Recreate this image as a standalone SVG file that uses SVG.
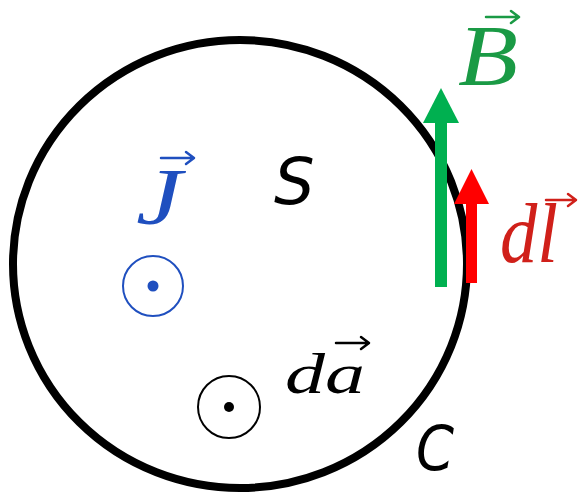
<svg xmlns="http://www.w3.org/2000/svg" width="579" height="493" viewBox="0 0 579 493">
<style>
.math{font-family:"Liberation Serif","DejaVu Serif",serif;font-style:italic}
.sans{font-family:"DejaVu Sans","Liberation Sans",sans-serif;font-style:oblique}
.vec{fill:none;stroke-width:2.5;stroke-linecap:round;stroke-linejoin:round}
</style>
<rect width="579" height="493" fill="#fff"/>
<g id="loop">
<ellipse cx="240" cy="264" rx="227" ry="224" fill="none" stroke="#000" stroke-width="8"/>
</g>
<g id="S"><text class="sans" x="274" y="204" font-size="64" fill="#000">S</text></g>
<g id="C"><text class="sans" x="416" y="470" font-size="62" fill="#000" textLength="38" lengthAdjust="spacingAndGlyphs">C</text></g>
<g id="J">
<circle cx="153" cy="286" r="30" fill="none" stroke="#1f4fbf" stroke-width="2"/>
<circle cx="153" cy="286" r="5.5" fill="#1f4fbf"/>
<text class="math" x="136" y="224" font-size="80" fill="#1f4fbf" textLength="46" lengthAdjust="spacingAndGlyphs">J</text>
<path class="vec" stroke="#1f4fbf" d="M161 158H193M186 152L194 158L186 164"/>
</g>
<g id="da">
<circle cx="229" cy="407" r="31" fill="none" stroke="#000" stroke-width="2"/>
<circle cx="229" cy="407" r="5" fill="#000"/>
<text class="math" x="285" y="393" font-size="58" fill="#000" textLength="80" lengthAdjust="spacingAndGlyphs">da</text>
<path class="vec" stroke="#000" d="M336 343H368M361 337L369 343L361 349"/>
</g>
<g id="B">
<path d="M441 287V120" stroke="#00b050" stroke-width="12"/>
<path d="M441 88L459 123H423Z" fill="#00b050"/>
<text class="math" x="458" y="85" font-size="86" fill="#1a9a45" textLength="60" lengthAdjust="spacingAndGlyphs">B</text>
<path class="vec" stroke="#1a9a45" d="M486 17H518M511 11L519 17L511 23"/>
</g>
<g id="dl">
<path d="M471.5 283V200" stroke="#ff0000" stroke-width="11"/>
<path d="M471.5 169L489 204H454Z" fill="#ff0000"/>
<text class="math" x="500" y="262" font-size="84" fill="#d0201a" textLength="58" lengthAdjust="spacingAndGlyphs">dl</text>
<path class="vec" stroke="#d0201a" d="M546 200H575M568 194L576 200L568 206"/>
</g>
<g id="connectors"/>
</svg>
